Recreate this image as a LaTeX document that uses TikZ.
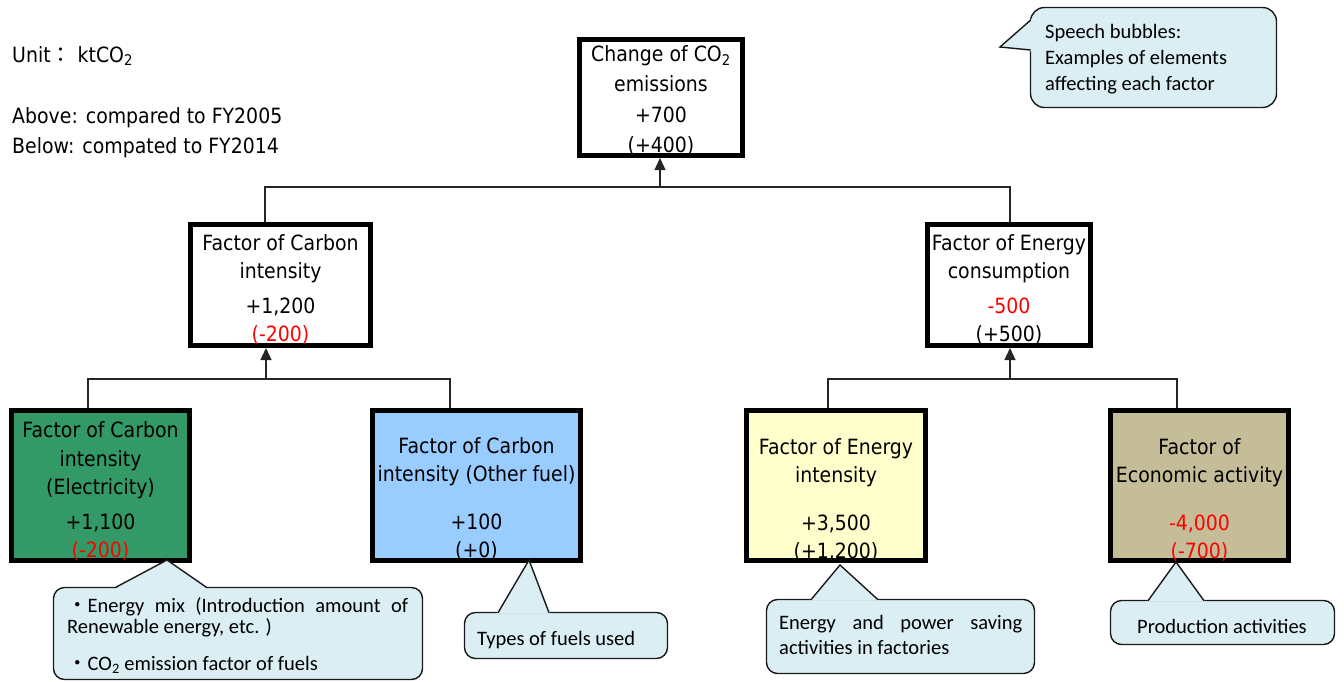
\documentclass[tikz,border=0pt]{standalone}
\usepackage{fontspec}
\setmainfont{DejaVu Sans}[FakeStretch=0.9]
\newfontfamily\bubfont{Carlito}
\newfontfamily\jpfont{Noto Sans CJK JP}
\usetikzlibrary{arrows.meta}
\definecolor{gbox}{RGB}{51,153,102}
\definecolor{bbox}{RGB}{153,204,255}
\definecolor{ybox}{RGB}{255,255,204}
\definecolor{tbox}{RGB}{196,189,151}
\definecolor{bubfill}{RGB}{218,238,243}
\definecolor{txtred}{RGB}{255,0,0}
\begin{document}
\begin{tikzpicture}[x=1pt,y=-1pt,
  box/.style={draw=black, line width=5pt, rectangle, inner sep=0pt},
  lbl/.style={align=center, inner sep=0pt},
  conn/.style={draw=black!85, line width=1.3pt},
  arr/.style={conn, -{Triangle[width=11pt,length=12pt]}},
  bubble/.style={draw=black!90, fill=bubfill, line width=1.4pt, rounded corners=11pt, rectangle, inner sep=0pt},
  bubline/.style={draw=black!90, line width=1.4pt, line join=miter},
  btxt/.style={font=\bubfont\fontsize{20.5}{21}\selectfont, inner sep=0pt, anchor=base west},
  mtxt/.style={font=\fontsize{21}{28}\selectfont, inner sep=0pt, anchor=base west},
]
\useasboundingbox (0,0) rectangle (1344,681);

% top-left notes
\node[mtxt] (unit) at (12,62) {Unit{\jpfont ：} ktCO\textsubscript{2}};
\node[mtxt] (above) at (12,123) {Above: compared to FY2005};
\node[mtxt] (below) at (12,153) {Below: compated to FY2014};

% connectors
\coordinate (bus1l) at (265,187);
\coordinate (bus1m) at (660,187);
\coordinate (bus1r) at (1010,187);
\coordinate (bus2l) at (88,379);
\coordinate (bus2m) at (266,379);
\coordinate (bus2r) at (450,379);
\coordinate (bus3l) at (828,379);
\coordinate (bus3m) at (1010,379);
\coordinate (bus3r) at (1177,379);

% boxes
\node[box, minimum width=163pt, minimum height=116pt] (top) at (661,97.5) {};
\node[box, minimum width=180pt, minimum height=121pt] (cl) at (280.5,285) {};
\node[box, minimum width=163pt, minimum height=121pt] (cr) at (1009,285) {};
\node[box, fill=gbox, minimum width=178pt, minimum height=150pt] (gb) at (100.5,485.5) {};
\node[box, fill=bbox, minimum width=208pt, minimum height=150pt] (bb) at (476.5,485.5) {};
\node[box, fill=ybox, minimum width=179pt, minimum height=150pt] (yb) at (836,485.5) {};
\node[box, fill=tbox, minimum width=178pt, minimum height=150pt] (tb) at (1199.5,485.5) {};

\draw[conn] (bus1l |- cl.north) -- (bus1l) -- (bus1r) -- (bus1r |- cr.north);
\draw[arr] (bus1m) -- (bus1m |- top.south);
\draw[conn] (bus2l |- gb.north) -- (bus2l) -- (bus2r) -- (bus2r |- bb.north);
\draw[arr] (bus2m) -- (bus2m |- cl.south);
\draw[conn] (bus3l |- yb.north) -- (bus3l) -- (bus3r) -- (bus3r |- tb.north);
\draw[arr] (bus3m) -- (bus3m |- cr.south);

% box labels
\node[lbl, font=\fontsize{21}{30.5}\selectfont] (top-t) at (661,100.5) {Change of CO\textsubscript{2}\\emissions\\+700\\(+400)};
\node[lbl, font=\fontsize{21}{28}\selectfont] (cl-t) at (280.5,289) {Factor of Carbon\\intensity\\[7pt]+1,200\\\textcolor{txtred}{(-200)}};
\node[lbl, font=\fontsize{21}{28}\selectfont] (cr-t) at (1009,289.5) {Factor of Energy\\consumption\\[7pt]\textcolor{txtred}{-500}\\(+500)};
\node[lbl, font=\fontsize{21}{28.5}\selectfont] (gb-t) at (100.5,491) {Factor of Carbon\\intensity\\(Electricity)\\[6pt]+1,100\\\textcolor{txtred}{(-200)}};
\node[lbl, font=\fontsize{21}{28}\selectfont] (bb-t) at (476.5,498.5) {Factor of Carbon\\intensity (Other fuel)\\[20pt]+100\\(+0)};
\node[lbl, font=\fontsize{21}{28}\selectfont] (yb-t) at (836,499.5) {Factor of Energy\\intensity\\[20pt]+3,500\\(+1,200)};
\node[lbl, font=\fontsize{21}{28}\selectfont] (tb-t) at (1199.5,499.5) {Factor of\\Economic activity\\[20pt]\textcolor{txtred}{-4,000}\\\textcolor{txtred}{(-700)}};

% speech bubble legend (top right)
\node[bubble, rounded corners=14pt, minimum width=246pt, minimum height=100pt] (leg) at (1153.5,57.5) {};
\coordinate (legtip) at (1000,47);
\fill[bubfill] (1032,18.5) -- (legtip) -- (1032,51.5) -- cycle;
\draw[bubline] (1030.7,20) -- (legtip) -- (1030.7,50);
\node[btxt] (leg-a) at (1045,38.5) {Speech bubbles:};
\node[btxt] (leg-b) at (1045,64.5) {Examples of elements};
\node[btxt] (leg-c) at (1045,90) {affecting each factor};

% callout 1 (electricity)
\node[bubble, minimum width=369pt, minimum height=92pt] (c1) at (238,633.5) {};
\coordinate (c1tip) at (167,560);
\fill[bubfill] (113.5,589.5) -- (c1tip) -- (208.5,589.5) -- cycle;
\draw[bubline] (115,587.7) -- (c1tip) -- (207,587.7);
\node[btxt] (c1a) at (67,612) {\makebox[341pt][s]{{\jpfont ・}Energy mix (Introduction amount of}};
\node[btxt] (c1b) at (67,633) {Renewable energy, etc. )};
\node[btxt] (c1c) at (67,670) {{\jpfont ・}CO\textsubscript{2} emission factor of fuels};

% callout 2 (other fuel)
\node[bubble, minimum width=203pt, minimum height=46pt] (c2) at (566,635.5) {};
\coordinate (c2tip) at (529,560);
\fill[bubfill] (497,613.5) -- (c2tip) -- (550,613.5) -- cycle;
\draw[bubline] (498,612.7) -- (c2tip) -- (549,612.7);
\node[btxt] (c2a) at (477,645.5) {Types of fuels used};

% callout 3 (energy intensity)
\node[bubble, minimum width=268pt, minimum height=74pt] (c3) at (900.5,636.5) {};
\coordinate (c3tip) at (840,565);
\fill[bubfill] (810,600.5) -- (c3tip) -- (879,600.5) -- cycle;
\draw[bubline] (811,599.7) -- (c3tip) -- (878,599.7);
\node[btxt] (c3a) at (779,629) {\makebox[243pt][s]{Energy and power saving}};
\node[btxt] (c3b) at (779,654) {activities in factories};

% callout 4 (economic activity)
\node[bubble, minimum width=224pt, minimum height=44pt] (c4) at (1222.5,622.5) {};
\coordinate (c4tip) at (1176,562);
\fill[bubfill] (1147,601.5) -- (c4tip) -- (1205,601.5) -- cycle;
\draw[bubline] (1148,600.7) -- (c4tip) -- (1204,600.7);
\node[btxt, anchor=base] (c4a) at (1222,633) {Production activities};
\end{tikzpicture}
\end{document}
